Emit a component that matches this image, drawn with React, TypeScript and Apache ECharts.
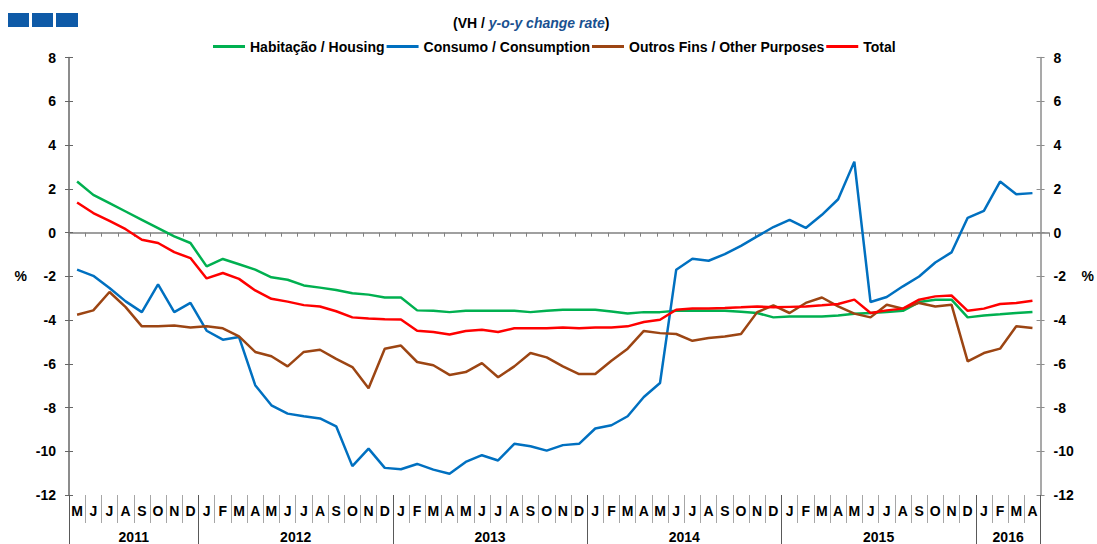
import React, { useEffect, useRef } from "react";
import * as echarts from "echarts";

const months = [
  "M","J","J","A","S","O","N","D",
  "J","F","M","A","M","J","J","A","S","O","N","D",
  "J","F","M","A","M","J","J","A","S","O","N","D",
  "J","F","M","A","M","J","J","A","S","O","N","D",
  "J","F","M","A","M","J","J","A","S","O","N","D",
  "J","F","M","A",
];
const years = ["2011", "2012", "2013", "2014", "2015", "2016"];
const monthsPerYear = [8, 12, 12, 12, 12, 4];
const yTicks = { min: -12, max: 8, interval: 2 };

const housing = [
  2.33, 1.72, 1.34, 0.96, 0.58, 0.2, -0.18, -0.48,
  -1.55, -1.21, -1.45, -1.7, -2.05, -2.16, -2.42, -2.52, -2.63, -2.78, -2.84, -2.97,
  -2.97, -3.56, -3.58, -3.64, -3.58, -3.58, -3.58, -3.58, -3.64, -3.58, -3.53, -3.53,
  -3.53, -3.61, -3.7, -3.64, -3.64, -3.58, -3.57, -3.58, -3.58, -3.62, -3.68, -3.88,
  -3.84, -3.84, -3.84, -3.79, -3.71, -3.68, -3.63, -3.58, -3.18, -3.07, -3.07, -3.88,
  -3.79, -3.74, -3.68, -3.63,
];
const consumption = [
  -1.7, -1.98, -2.54, -3.15, -3.64, -2.37, -3.64, -3.22,
  -4.49, -4.9, -4.78, -6.98, -7.9, -8.28, -8.4, -8.5, -8.86, -10.68, -9.88, -10.76,
  -10.82, -10.58, -10.84, -11.03, -10.49, -10.18, -10.42, -9.66, -9.77, -9.97, -9.72, -9.66,
  -8.96, -8.81, -8.4, -7.52, -6.88, -1.7, -1.2, -1.29, -0.99, -0.61, -0.18, 0.25,
  0.58, 0.21, 0.81, 1.52, 3.24, -3.18, -2.95, -2.46, -2.01, -1.37, -0.91, 0.67,
  0.99, 2.33, 1.75, 1.8,
];
const otherPurposes = [
  -3.76, -3.56, -2.72, -3.41, -4.29, -4.29, -4.25, -4.34,
  -4.29, -4.38, -4.75, -5.46, -5.66, -6.12, -5.46, -5.36, -5.78, -6.15, -7.12, -5.31,
  -5.17, -5.92, -6.07, -6.51, -6.38, -5.97, -6.62, -6.12, -5.51, -5.71, -6.12, -6.47,
  -6.47, -5.86, -5.31, -4.5, -4.6, -4.64, -4.95, -4.82, -4.75, -4.64, -3.64, -3.33,
  -3.68, -3.22, -2.97, -3.38, -3.71, -3.88, -3.3, -3.48, -3.22, -3.38, -3.3, -5.89,
  -5.51, -5.31, -4.29, -4.37,
];
const total = [
  1.37, 0.89, 0.53, 0.15, -0.33, -0.48, -0.9, -1.17,
  -2.1, -1.85, -2.12, -2.65, -3.03, -3.16, -3.32, -3.38, -3.6, -3.88, -3.93, -3.97,
  -3.98, -4.49, -4.55, -4.66, -4.5, -4.45, -4.55, -4.38, -4.38, -4.38, -4.34, -4.38,
  -4.34, -4.34, -4.29, -4.09, -3.99, -3.53, -3.47, -3.47, -3.45, -3.42, -3.38, -3.42,
  -3.4, -3.38, -3.33, -3.27, -3.07, -3.68, -3.56, -3.48, -3.07, -2.92, -2.88, -3.58,
  -3.48, -3.27, -3.22, -3.12,
];

const seriesNames = [
  "Habitação / Housing",
  "Consumo / Consumption",
  "Outros Fins / Other Purposes",
  "Total",
];
const seriesColors = ["#00b050", "#0070c0", "#9c4513", "#ff0000"];

const FONT = "'Liberation Sans', Arial, sans-serif";

export default function App() {
  const ref = useRef<HTMLDivElement>(null);

  useEffect(() => {
    if (!ref.current) return;
    const chart = echarts.init(ref.current, undefined, { renderer: "svg" });

    // half-month positions for year separators and centred year labels
    const halfSteps: string[] = new Array(months.length * 2 + 1).fill("");
    const yearBoundaries = new Set<number>();
    const yearLabelIdx = new Set<number>();
    let start = 0;
    yearBoundaries.add(0);
    monthsPerYear.forEach((n, k) => {
      const center = start * 2 + n;
      halfSteps[center] = years[k];
      yearLabelIdx.add(center);
      start += n;
      yearBoundaries.add(start * 2);
    });

    const allSeries = [housing, consumption, otherPurposes, total];

    const gridLeft = 69;
    const gridRight = 48;
    const gridTop = 57.5;
    const gridHeight = 438;
    const zeroHeight = (gridHeight * yTicks.max) / (yTicks.max - yTicks.min);

    const labelStyle = {
      fontFamily: FONT,
      fontWeight: "bold" as const,
      fontSize: 14,
      color: "#000",
    };

    chart.setOption({
      animation: false,
      backgroundColor: "#fff",
      title: {
        text: "{a|(VH / }{b|y-o-y change rate}{a|)}",
        left: 453,
        top: 16,
        padding: 0,
        textStyle: {
          rich: {
            a: { fontFamily: FONT, fontWeight: "bold", fontSize: 14, color: "#000" },
            b: {
              fontFamily: FONT,
              fontWeight: "bold",
              fontStyle: "italic",
              fontSize: 14,
              color: "#1a5190",
            },
          },
        },
      },
      legend: {
        left: 213,
        top: 39.5,
        padding: 0,
        itemWidth: 32,
        itemHeight: 3,
        itemGap: 2,
        icon: "path://M0 0 H32 V3 H0 Z",
        data: seriesNames,
        textStyle: { fontFamily: FONT, fontWeight: "bold", fontSize: 14, color: "#000" },
      },
      graphic: [
        { type: "rect", shape: { x: 8, y: 13, width: 21, height: 14 }, style: { fill: "#0e5aa7" } },
        { type: "rect", shape: { x: 32, y: 13, width: 21, height: 14 }, style: { fill: "#0e5aa7" } },
        { type: "rect", shape: { x: 56, y: 13, width: 22, height: 14 }, style: { fill: "#0e5aa7" } },
      ],
      grid: [
        { left: gridLeft, right: gridRight, top: gridTop, height: gridHeight, containLabel: false },
        { left: gridLeft, right: gridRight, top: gridTop, height: zeroHeight, containLabel: false },
      ],
      xAxis: [
        {
          gridIndex: 0,
          type: "category",
          data: months,
          position: "bottom",
          boundaryGap: true,
          axisLine: { show: false, onZero: false },
          axisTick: { show: true, interval: 0, length: 28, lineStyle: { color: "#a6a6a6" } },
          axisLabel: { ...labelStyle, interval: 0, margin: 9 },
          splitLine: { show: false },
        },
        {
          gridIndex: 0,
          type: "category",
          data: halfSteps,
          position: "bottom",
          boundaryGap: false,
          axisLine: { show: false, onZero: false },
          axisTick: {
            show: true,
            length: 49,
            interval: (idx: number) => yearBoundaries.has(idx),
            lineStyle: { color: "#595959" },
          },
          axisLabel: {
            ...labelStyle,
            margin: 35,
            interval: (idx: number) => yearLabelIdx.has(idx),
          },
          splitLine: { show: false },
        },
        {
          gridIndex: 1,
          type: "category",
          data: months,
          position: "bottom",
          boundaryGap: true,
          axisLine: { show: true, onZero: false, lineStyle: { color: "#808080", width: 1.5 } },
          axisTick: { show: true, interval: 0, length: 4, lineStyle: { color: "#808080" } },
          axisLabel: { show: false },
          splitLine: { show: false },
        },
      ],
      yAxis: [
        {
          gridIndex: 0,
          type: "value",
          position: "left",
          min: yTicks.min,
          max: yTicks.max,
          interval: yTicks.interval,
          name: "%",
          nameLocation: "middle",
          nameGap: 42,
          nameRotate: 0,
          nameTextStyle: { ...labelStyle },
          axisLine: { show: true, onZero: false, lineStyle: { color: "#666", width: 1.5 } },
          axisTick: { show: true, length: 4, lineStyle: { color: "#666" } },
          axisLabel: { ...labelStyle, margin: 13 },
          splitLine: { show: false },
        },
        {
          gridIndex: 0,
          type: "value",
          position: "left",
          min: yTicks.min,
          max: yTicks.max,
          interval: yTicks.interval,
          axisLine: { show: false, onZero: false },
          axisTick: { show: true, inside: true, length: 4, lineStyle: { color: "#666" } },
          axisLabel: { show: false },
          splitLine: { show: false },
        },
        {
          gridIndex: 0,
          type: "value",
          position: "right",
          min: yTicks.min,
          max: yTicks.max,
          interval: yTicks.interval,
          name: "%",
          nameLocation: "middle",
          nameGap: 41,
          nameRotate: 0,
          nameTextStyle: { ...labelStyle },
          axisLine: { show: true, onZero: false, lineStyle: { color: "#8c8c8c", width: 1.5 } },
          axisTick: { show: true, length: 4, lineStyle: { color: "#8c8c8c" } },
          axisLabel: { ...labelStyle, margin: 13 },
          splitLine: { show: false },
        },
        {
          gridIndex: 0,
          type: "value",
          position: "right",
          min: yTicks.min,
          max: yTicks.max,
          interval: yTicks.interval,
          axisLine: { show: false, onZero: false },
          axisTick: { show: true, inside: true, length: 4, lineStyle: { color: "#8c8c8c" } },
          axisLabel: { show: false },
          splitLine: { show: false },
        },
        {
          gridIndex: 1,
          type: "value",
          min: 0,
          max: 1,
          show: false,
        },
      ],
      series: allSeries.map((data, k) => ({
        name: seriesNames[k],
        type: "line",
        xAxisIndex: 0,
        yAxisIndex: 0,
        data,
        symbol: "none",
        showSymbol: false,
        lineStyle: { color: seriesColors[k], width: 2.5 },
        itemStyle: { color: seriesColors[k] },
        z: 3 + k,
      })),
    });

    return () => {
      chart.dispose();
    };
  }, []);

  return (
    <div
      ref={ref}
      style={{ position: "fixed", left: 0, top: 0, width: 1097, height: 544, background: "#fff" }}
    />
  );
}
